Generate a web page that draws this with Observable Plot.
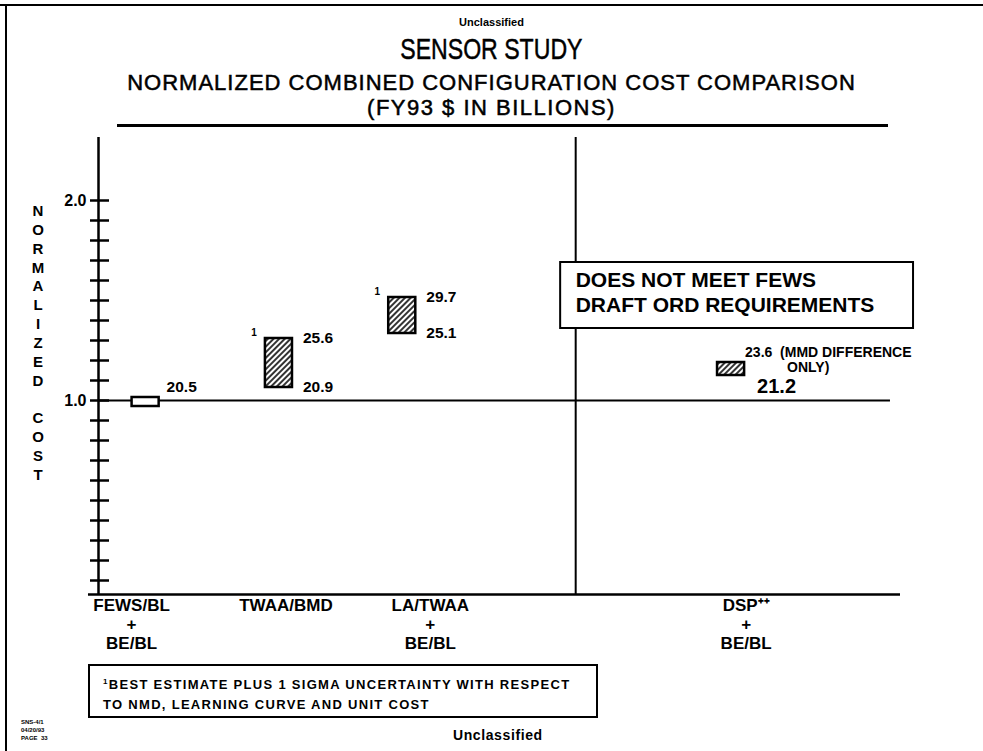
<!DOCTYPE html>
<html>
<head>
<meta charset="utf-8">
<script src="https://cdn.jsdelivr.net/npm/d3@7"></script>
<script src="https://cdn.jsdelivr.net/npm/@observablehq/plot@0.6"></script>
<style>
  body { margin: 0; background: #fff; }
  #page { position: relative; width: 983px; height: 751px; overflow: hidden; background: #fff;
          font-family: "Liberation Sans", Arial, Helvetica, sans-serif; color: #000; }
  .abs { position: absolute; }
  .center { left: 0; width: 983px; text-align: center; white-space: nowrap; }
  .heavy { -webkit-text-stroke: 0.5px #000; }
  #chart { position: absolute; left: 0; top: 0; }
</style>
</head>
<body>
<div id="page">
  <div id="chart"></div>
  <!-- frame -->
  <div class="abs" style="left:0;top:4px;width:983px;height:2px;background:#000"></div>
  <div class="abs" style="left:5px;top:4px;width:2px;height:747px;background:#000"></div>
  <!-- titles -->
  <div class="abs center" style="top:15px;font-size:11px;font-weight:bold;line-height:14px">Unclassified</div>
  <div class="abs center heavy" style="top:32px;font-size:30px;line-height:34px;"><span style="display:inline-block;transform:scaleX(0.77)">SENSOR STUDY</span></div>
  <div class="abs center heavy" style="top:70px;font-size:22px;line-height:26px;letter-spacing:1px">NORMALIZED COMBINED CONFIGURATION COST COMPARISON</div>
  <div class="abs center heavy" style="top:95px;font-size:22px;line-height:26px;letter-spacing:1.5px">(FY93 $ IN BILLIONS)</div>
  <div class="abs" style="left:117px;top:124px;width:771px;height:2.5px;background:#000"></div>
  <!-- y label -->
  <div class="abs" style="left:28px;top:202px;width:20px;text-align:center;font-size:15px;font-weight:bold;line-height:18.86px">N<br>O<br>R<br>M<br>A<br>L<br>I<br>Z<br>E<br>D<br>&nbsp;<br>C<br>O<br>S<br>T</div>
  <!-- footnote box -->
  <div class="abs" style="left:88px;top:664px;width:506px;height:50px;border:2.5px solid #000;font-size:13px;font-weight:bold;line-height:20px;letter-spacing:1.3px">
    <div style="position:absolute;left:13px;top:6px;white-space:nowrap"><sup style="font-size:8px">1</sup>BEST ESTIMATE PLUS 1 SIGMA UNCERTAINTY WITH RESPECT<br>TO NMD, LEARNING CURVE AND UNIT COST</div>
  </div>
  <div class="abs" style="left:453px;top:727px;font-size:14px;font-weight:bold;letter-spacing:0.6px">Unclassified</div>
  <div class="abs" style="left:21px;top:718px;font-size:6px;font-weight:bold;line-height:8px">SNS-4/1<br>04/20/93<br>PAGE&nbsp;&nbsp;33</div>
</div>
<script>
// ---- data ----
const categories = ["FEWS/BL", "TWAA/BMD", "LA/TWAA", "DSP++"];
const barSlot    = [0.47, 1.80, 3.03, 6.31];       // horizontal slot of each configuration
const normLow    = [0.97, 1.065, 1.335, 1.125];     // normalized cost, low end
const normHigh   = [1.015, 1.31, 1.515, 1.19];      // normalized cost, high end
const costLow    = ["20.5", "20.9", "25.1", "21.2"]; // FY93 $B
const costHigh   = ["", "25.6", "29.7", "23.6"];
const hatched    = [false, true, true, true];
const sigmaNote  = [false, true, true, false];
const axisLabels = ["FEWS/BL\n+\nBE/BL", "TWAA/BMD", "LA/TWAA\n+\nBE/BL", "DSP\u207A\u207A\n+\nBE/BL"];
const labelSlot  = [0.33, 1.87, 3.31, 6.46];
const yTickLabels = [1.0, 2.0];
const yMinorTicks = [0.1,0.2,0.3,0.4,0.5,0.6,0.7,0.8,0.9,1.0,1.1,1.2,1.3,1.4,1.5,1.6,1.7,1.8,1.9,2.0];
const dividerSlot = [4.76];
const noticeLines = ["DOES NOT MEET FEWS", "DRAFT ORD REQUIREMENTS"];
const noticeBox = [{x1: 4.61, x2: 8.13, y1: 1.36, y2: 1.69}];
const noticeLineY = [1.6, 1.475];
const dspNote = ["(MMD DIFFERENCE", "ONLY)"];

const bars = categories.map((c, i) => ({
  category: c, slot: barSlot[i], lo: normLow[i], hi: normHigh[i],
  costLo: costLow[i], costHi: costHigh[i], hatched: hatched[i], note: sigmaNote[i]
}));
const half = 0.135;
const font = "Liberation Sans, Arial, sans-serif";
const dsp = bars.filter(d => d.hatched && !d.note);

const chart = Plot.plot({
  width: 983, height: 751,
  marginLeft: 98, marginRight: 83, marginTop: 137, marginBottom: 157,
  x: {domain: [0, 8], axis: null},
  y: {domain: [0.03, 2.315], axis: null},
  style: {fontFamily: font, background: "transparent", overflow: "visible", color: "#000"},
  marks: [
    Plot.ruleX([0], {stroke: "#000", strokeWidth: 2.5}),
    Plot.ruleY(yMinorTicks, {x1: -0.08, x2: 0.11, stroke: "#000", strokeWidth: 2.5}),
    Plot.axisY({ticks: yTickLabels, tickSize: 0, tickPadding: 12, tickFormat: d3.format(".1f"),
                fontSize: 16, fontWeight: "bold"}),
    Plot.ruleY([1], {x1: 0, x2: 7.9, stroke: "#000", strokeWidth: 2}),
    Plot.ruleX(dividerSlot, {stroke: "#000", strokeWidth: 2}),
    Plot.ruleY([0.03], {x1: -0.1, x2: 8, stroke: "#000", strokeWidth: 2.5}),
    // notice box
    Plot.rect(noticeBox, {x1: "x1", x2: "x2", y1: "y1", y2: "y2", fill: "white", stroke: "#000", strokeWidth: 2}),
    Plot.text(noticeLines, {x: () => dividerSlot[0], y: (d, i) => noticeLineY[i], text: d => d,
      textAnchor: "start", fontSize: 21, fontWeight: "bold", ariaLabel: "notice"}),
    // bars
    Plot.rect(bars.filter(d => !d.hatched), {x1: d => d.slot - half, x2: d => d.slot + half, y1: "lo", y2: "hi",
      fill: "white", stroke: "#000", strokeWidth: 2.5}),
    Plot.rect(bars.filter(d => d.hatched), {x1: d => d.slot - half, x2: d => d.slot + half, y1: "lo", y2: "hi",
      fill: "url(#hatch)", stroke: "#000", strokeWidth: 2.5}),
    // value labels for sigma bars
    Plot.text(bars.filter(d => d.note), {x: "slot", y: "hi", text: "costHi", dx: 24, textAnchor: "start",
      fontSize: 15.5, fontWeight: "bold"}),
    Plot.text(bars.filter(d => d.note), {x: "slot", y: "lo", text: "costLo", dx: 24, textAnchor: "start",
      fontSize: 15.5, fontWeight: "bold"}),
    Plot.text(bars.filter(d => d.note), {x: "slot", y: "hi", text: () => "1", dx: -25, dy: -6,
      fontSize: 10, fontWeight: "bold"}),
    // FEWS label
    Plot.text(bars.filter(d => !d.hatched), {x: "slot", y: "hi", text: "costLo", dx: 21, dy: -10,
      textAnchor: "start", fontSize: 15.5, fontWeight: "bold"}),
    // DSP labels
    Plot.text(dsp, {x: "slot", y: "hi", text: d => d.costHi + "  " + dspNote[0],
      dx: 14, dy: -10, textAnchor: "start", fontSize: 14, fontWeight: "bold", ariaLabel: "dsp-note"}),
    Plot.text(dsp, {x: "slot", y: "hi", text: () => dspNote[1],
      dx: 56, dy: 5, textAnchor: "start", fontSize: 14, fontWeight: "bold", ariaLabel: "dsp-note"}),
    Plot.text(dsp, {x: "slot", y: "lo", text: "costLo",
      dx: 26, dy: 11, textAnchor: "start", fontSize: 20, fontWeight: "bold", ariaLabel: "dsp-low"}),
    // category labels
    Plot.text(axisLabels, {x: (d, i) => labelSlot[i], text: d => d, frameAnchor: "bottom", lineAnchor: "top",
      dy: 3, fontSize: 17, fontWeight: "bold", lineHeight: 1.12})
  ]
});

const svg = d3.select(chart);
svg.selectAll('g[aria-label="notice"] text').attr("letter-spacing", 1.1);
svg.selectAll('g[aria-label="dsp-note"] text').attr("letter-spacing", 1.7);
svg.selectAll('g[aria-label="dsp-low"] text').attr("letter-spacing", 1);

const defs = svg.insert("defs", ":first-child");
const pat = defs.append("pattern").attr("id", "hatch").attr("patternUnits", "userSpaceOnUse")
  .attr("width", 4).attr("height", 4).attr("patternTransform", "rotate(45)");
pat.append("rect").attr("width", 4).attr("height", 4).attr("fill", "#fff");
pat.append("line").attr("x1", 1).attr("y1", 0).attr("x2", 1).attr("y2", 4)
  .attr("stroke", "#000").attr("stroke-width", 1.6);

document.getElementById("chart").appendChild(chart);
</script>
</body>
</html>
